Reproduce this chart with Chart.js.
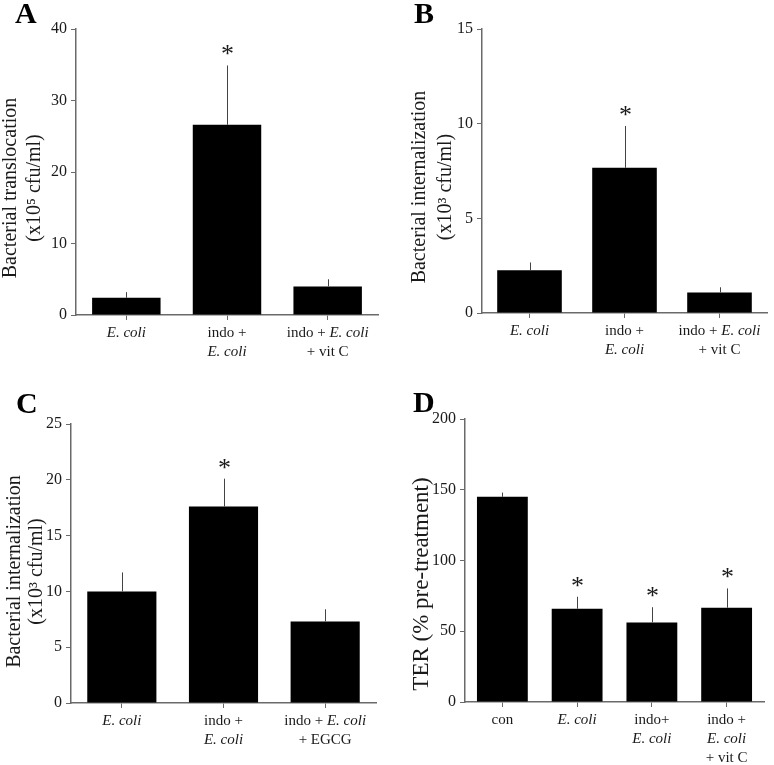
<!DOCTYPE html>
<html>
<head>
<meta charset="utf-8">
<script src="https://cdn.jsdelivr.net/npm/chart.js@4.4.1/dist/chart.umd.min.js"></script>
<style>
  html, body { margin: 0; padding: 0; background: #fff; }
  #wrap { position: relative; width: 774px; height: 765px; overflow: hidden; }
  #wrap canvas { position: absolute; }
</style>
</head>
<body>
<div id="wrap">
  <canvas id="cA" width="387" height="380" style="left:0;top:0"></canvas>
  <canvas id="cB" width="387" height="380" style="left:387px;top:0"></canvas>
  <canvas id="cC" width="387" height="385" style="left:0;top:380px"></canvas>
  <canvas id="cD" width="387" height="385" style="left:387px;top:380px"></canvas>
</div>
<script>
  // ---- data ----
  const catsA = [['E. coli'], ['indo +', 'E. coli'], ['indo + E. coli', '+ vit C']];
  const valsA = [2.4, 26.6, 4.0];
  const errA = [0.8, 8.3, 1.0];
  const sigA = [false, true, false];
  const ticksA = [0, 10, 20, 30, 40];
  const titleA = ['Bacterial translocation', '(x10\u2075 cfu/ml)'];

  const catsB = [['E. coli'], ['indo +', 'E. coli'], ['indo + E. coli', '+ vit C']];
  const valsB = [2.26, 7.67, 1.08];
  const errB = [0.41, 2.21, 0.28];
  const sigB = [false, true, false];
  const ticksB = [0, 5, 10, 15];
  const titleB = ['Bacterial internalization', '(x10\u00b3 cfu/ml)'];

  const catsC = [['E. coli'], ['indo +', 'E. coli'], ['indo + E. coli', '+ EGCG']];
  const valsC = [10.0, 17.6, 7.3];
  const errC = [1.7, 2.5, 1.1];
  const sigC = [false, true, false];
  const ticksC = [0, 5, 10, 15, 20, 25];
  const titleC = ['Bacterial internalization', '(x10\u00b3 cfu/ml)'];

  const catsD = [['con'], ['E. coli'], ['indo+', 'E. coli'], ['indo +', 'E. coli', '+ vit C']];
  const valsD = [145, 65.9, 56.2, 66.6];
  const errD = [3, 8.5, 10.8, 13.7];
  const sigD = [false, true, true, true];
  const ticksD = [0, 50, 100, 150, 200];
  const titleD = ['TER (% pre-treatment)'];

  const SERIF = '"Liberation Serif", "DejaVu Serif", serif';
  const AXIS = '#6a6a6a';
  const INK = '#1a1a1a';

  // draws error bars, asterisks, x labels (with italic E. coli), y title, panel letter
  function deco(cfg) {
    return {
      id: 'deco',
      afterDatasetsDraw(chart) {
        const ctx = chart.ctx, ys = chart.scales.y;
        const meta = chart.getDatasetMeta(0);
        ctx.save();
        ctx.strokeStyle = '#444';
        ctx.lineWidth = 1;
        cfg.vals.forEach((v, i) => {
          const x = Math.round(meta.data[i].x) + 0.5;
          const yTop = ys.getPixelForValue(v + cfg.err[i]);
          ctx.beginPath();
          ctx.moveTo(x, ys.getPixelForValue(v));
          ctx.lineTo(x, yTop);
          ctx.stroke();
          if (cfg.sig[i]) {
            ctx.fillStyle = INK;
            ctx.font = '26px ' + SERIF;
            ctx.textAlign = 'center';
            ctx.textBaseline = 'alphabetic';
            ctx.fillText('*', x, yTop - 3);
          }
        });
        ctx.restore();
      },
      afterDraw(chart) {
        const ctx = chart.ctx, xs = chart.scales.x;
        const axisY = chart.chartArea.bottom;
        ctx.save();
        ctx.fillStyle = INK;
        ctx.textBaseline = 'middle';
        ctx.textAlign = 'left';
        cfg.cats.forEach((lines, i) => {
          const cx = xs.getPixelForValue(i);
          lines.forEach((line, k) => {
            const segs = line.split(/(E\. coli)/).filter(s => s !== '');
            const fonts = segs.map(s => (s === 'E. coli' ? 'italic ' : '') + '15px ' + SERIF);
            let total = 0;
            const widths = segs.map((s, j) => { ctx.font = fonts[j]; const w = ctx.measureText(s).width; total += w; return w; });
            let x = cx - total / 2;
            const y = axisY + 18 + 19 * k;
            segs.forEach((s, j) => { ctx.font = fonts[j]; ctx.fillText(s, x, y); x += widths[j]; });
          });
        });
        // y-axis title
        ctx.textAlign = 'center';
        ctx.textBaseline = 'alphabetic';
        ctx.font = cfg.titleSize + 'px ' + SERIF;
        cfg.title.forEach((t, k) => {
          ctx.save();
          ctx.translate(cfg.titleX[k], cfg.titleY);
          ctx.rotate(-Math.PI / 2);
          ctx.fillText(t, 0, 0);
          ctx.restore();
        });
        // panel letter
        ctx.textAlign = 'left';
        ctx.font = 'bold 30px ' + SERIF;
        ctx.fillStyle = '#000';
        ctx.fillText(cfg.letter, cfg.letterPos[0], cfg.letterPos[1]);
        ctx.restore();
      }
    };
  }

  function panel(canvasId, cfg) {
    const cv = document.getElementById(canvasId);
    const g = cfg.box;
    return new Chart(cv, {
      type: 'bar',
      data: {
        labels: cfg.cats.map(c => c.join(' ')),
        datasets: [{
          data: cfg.vals, backgroundColor: '#000', borderWidth: 0,
          barPercentage: 0.68, categoryPercentage: 1
        }]
      },
      options: {
        responsive: false, animation: false, events: [],
        layout: { padding: { top: g.y0, right: cv.width - g.x1, left: 0, bottom: 0 } },
        plugins: { legend: { display: false }, tooltip: { enabled: false } },
        scales: {
          x: {
            offset: true,
            grid: { drawOnChartArea: false, drawTicks: true, tickLength: 5, offset: false, color: AXIS },
            border: { color: AXIS, width: 1.5 },
            ticks: { display: false },
            afterFit: s => { s.height = cv.height - g.y1; }
          },
          y: {
            min: 0, max: cfg.ticks[cfg.ticks.length - 1],
            afterBuildTicks: s => { s.ticks = cfg.ticks.map(v => ({ value: v })); },
            grid: { drawOnChartArea: false, tickLength: 5, color: AXIS },
            border: { color: AXIS, width: 1.5 },
            ticks: { color: INK, font: { family: SERIF, size: 16 }, padding: 4 },
            afterFit: s => { s.width = g.x0; }
          }
        }
      },
      plugins: [deco(cfg)]
    });
  }

  panel('cA', {
    cats: catsA, vals: valsA, err: errA, sig: sigA, ticks: ticksA,
    title: titleA, titleSize: 20, titleX: [16, 40], titleY: 188,
    letter: 'A', letterPos: [15, 23],
    box: { x0: 76, x1: 378, y0: 29, y1: 315 }
  });
  panel('cB', {
    cats: catsB, vals: valsB, err: errB, sig: sigB, ticks: ticksB,
    title: titleB, titleSize: 20, titleX: [38, 63.5], titleY: 187,
    letter: 'B', letterPos: [27, 23],
    box: { x0: 95, x1: 380, y0: 29, y1: 313 }
  });
  panel('cC', {
    cats: catsC, vals: valsC, err: errC, sig: sigC, ticks: ticksC,
    title: titleC, titleSize: 20, titleX: [19.5, 42], titleY: 191.5,
    letter: 'C', letterPos: [16, 33],
    box: { x0: 71, x1: 376, y0: 44, y1: 323 }
  });
  panel('cD', {
    cats: catsD, vals: valsD, err: errD, sig: sigD, ticks: ticksD,
    title: titleD, titleSize: 23, titleX: [41.3], titleY: 204,
    letter: 'D', letterPos: [26, 32],
    box: { x0: 78, x1: 377, y0: 39, y1: 322 }
  });
</script>
</body>
</html>
